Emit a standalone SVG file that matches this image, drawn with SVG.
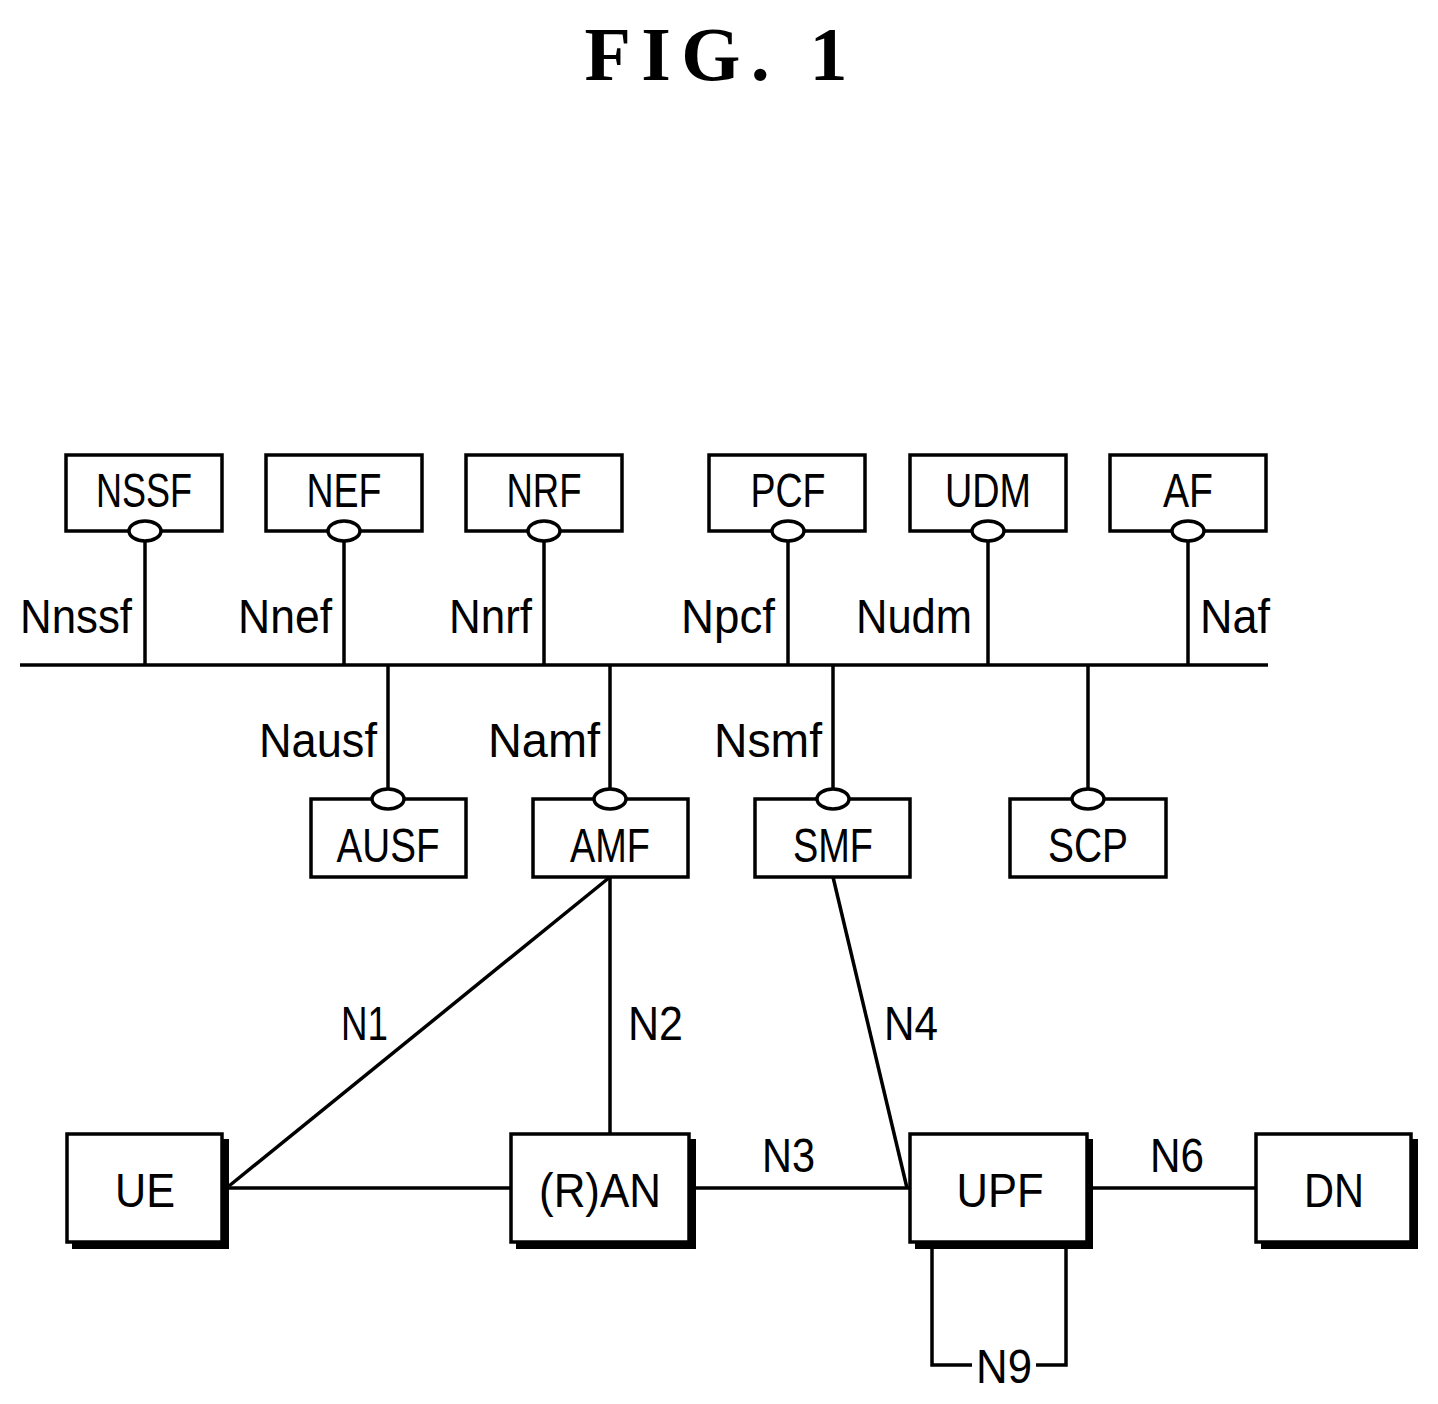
<svg xmlns="http://www.w3.org/2000/svg" width="1438" height="1404" viewBox="0 0 1438 1404">
<style>
.b{fill:#fff;stroke:#000;stroke-width:3.5}
.s{fill:#000}
.o{fill:#fff;stroke:#000;stroke-width:3.5}
.l{stroke:#000;stroke-width:3.5;fill:none}
text{font-family:"Liberation Sans",Arial,sans-serif;font-size:49px;fill:#000}
.c{text-anchor:middle}
</style>
<rect width="1438" height="1404" fill="#fff"/>
<text x="716" y="80" class="c" textLength="263" lengthAdjust="spacing" style="font-family:'Liberation Serif',serif;font-weight:bold;font-size:76px">FIG.  1</text>
<g id="connectors">
<line class="l" x1="20" y1="665" x2="1268" y2="665"/>
<line class="l" x1="145" y1="531" x2="145" y2="665"/>
<line class="l" x1="344" y1="531" x2="344" y2="665"/>
<line class="l" x1="544" y1="531" x2="544" y2="665"/>
<line class="l" x1="788" y1="531" x2="788" y2="665"/>
<line class="l" x1="988" y1="531" x2="988" y2="665"/>
<line class="l" x1="1188" y1="531" x2="1188" y2="665"/>
<line class="l" x1="388" y1="665" x2="388" y2="799"/>
<line class="l" x1="610" y1="665" x2="610" y2="799"/>
<line class="l" x1="833" y1="665" x2="833" y2="799"/>
<line class="l" x1="1088" y1="665" x2="1088" y2="799"/>
<line class="l" x1="610" y1="877" x2="229" y2="1186"/>
<line class="l" x1="610" y1="877" x2="610" y2="1134"/>
<line class="l" x1="833" y1="877" x2="907" y2="1188"/>
<line class="l" x1="225" y1="1188" x2="511" y2="1188"/>
<line class="l" x1="692" y1="1188" x2="910" y2="1188"/>
<line class="l" x1="1090" y1="1188" x2="1256" y2="1188"/>
<polyline class="l" points="932,1246 932,1365 972,1365"/>
<polyline class="l" points="1036,1365 1066,1365 1066,1246"/>
<text x="20" y="633" textLength="112" lengthAdjust="spacingAndGlyphs">Nnssf</text>
<text x="238" y="633" textLength="94" lengthAdjust="spacingAndGlyphs">Nnef</text>
<text x="449" y="633" textLength="83" lengthAdjust="spacingAndGlyphs">Nnrf</text>
<text x="681" y="633" textLength="94" lengthAdjust="spacingAndGlyphs">Npcf</text>
<text x="856" y="633" textLength="116" lengthAdjust="spacingAndGlyphs">Nudm</text>
<text x="1200" y="633" textLength="70" lengthAdjust="spacingAndGlyphs">Naf</text>
<text x="259" y="757" textLength="118" lengthAdjust="spacingAndGlyphs">Nausf</text>
<text x="488" y="757" textLength="112" lengthAdjust="spacingAndGlyphs">Namf</text>
<text x="714" y="757" textLength="108" lengthAdjust="spacingAndGlyphs">Nsmf</text>
<text x="341" y="1040" textLength="47" lengthAdjust="spacingAndGlyphs">N1</text>
<text x="628" y="1040" textLength="55" lengthAdjust="spacingAndGlyphs">N2</text>
<text x="884" y="1040" textLength="54" lengthAdjust="spacingAndGlyphs">N4</text>
<text x="762" y="1172" textLength="53" lengthAdjust="spacingAndGlyphs">N3</text>
<text x="1150" y="1172" textLength="54" lengthAdjust="spacingAndGlyphs">N6</text>
<text x="976" y="1383" textLength="56" lengthAdjust="spacingAndGlyphs">N9</text>
</g>
<g id="NSSF"><rect class="b" x="66" y="455" width="156" height="76"/><ellipse class="o" cx="145" cy="531" rx="16" ry="10"/><text x="144" y="507" class="c" textLength="96" lengthAdjust="spacingAndGlyphs">NSSF</text></g>
<g id="NEF"><rect class="b" x="266" y="455" width="156" height="76"/><ellipse class="o" cx="344" cy="531" rx="16" ry="10"/><text x="344" y="507" class="c" textLength="75" lengthAdjust="spacingAndGlyphs">NEF</text></g>
<g id="NRF"><rect class="b" x="466" y="455" width="156" height="76"/><ellipse class="o" cx="544" cy="531" rx="16" ry="10"/><text x="544" y="507" class="c" textLength="75" lengthAdjust="spacingAndGlyphs">NRF</text></g>
<g id="PCF"><rect class="b" x="709" y="455" width="156" height="76"/><ellipse class="o" cx="788" cy="531" rx="16" ry="10"/><text x="788" y="507" class="c" textLength="75" lengthAdjust="spacingAndGlyphs">PCF</text></g>
<g id="UDM"><rect class="b" x="910" y="455" width="156" height="76"/><ellipse class="o" cx="988" cy="531" rx="16" ry="10"/><text x="988" y="507" class="c" textLength="86" lengthAdjust="spacingAndGlyphs">UDM</text></g>
<g id="AF"><rect class="b" x="1110" y="455" width="156" height="76"/><ellipse class="o" cx="1188" cy="531" rx="16" ry="10"/><text x="1188" y="507" class="c" textLength="50" lengthAdjust="spacingAndGlyphs">AF</text></g>
<g id="AUSF"><rect class="b" x="311" y="799" width="155" height="78"/><ellipse class="o" cx="388" cy="799" rx="16" ry="10"/><text x="388" y="862" class="c" textLength="103" lengthAdjust="spacingAndGlyphs">AUSF</text></g>
<g id="AMF"><rect class="b" x="533" y="799" width="155" height="78"/><ellipse class="o" cx="610" cy="799" rx="16" ry="10"/><text x="610" y="862" class="c" textLength="80" lengthAdjust="spacingAndGlyphs">AMF</text></g>
<g id="SMF"><rect class="b" x="755" y="799" width="155" height="78"/><ellipse class="o" cx="833" cy="799" rx="16" ry="10"/><text x="833" y="862" class="c" textLength="80" lengthAdjust="spacingAndGlyphs">SMF</text></g>
<g id="SCP"><rect class="b" x="1010" y="799" width="156" height="78"/><ellipse class="o" cx="1088" cy="799" rx="16" ry="10"/><text x="1088" y="862" class="c" textLength="80" lengthAdjust="spacingAndGlyphs">SCP</text></g>
<g id="UE"><rect class="s" x="72" y="1139" width="157" height="110"/><rect class="b" x="67" y="1134" width="155" height="108"/><text x="145" y="1207" class="c" textLength="60" lengthAdjust="spacingAndGlyphs">UE</text></g>
<g id="RAN"><rect class="s" x="516" y="1139" width="180" height="110"/><rect class="b" x="511" y="1134" width="178" height="108"/><text x="600" y="1207" class="c" textLength="122" lengthAdjust="spacingAndGlyphs">(R)AN</text></g>
<g id="UPF"><rect class="s" x="915" y="1139" width="178" height="110"/><rect class="b" x="910" y="1134" width="177" height="108"/><text x="1000" y="1207" class="c" textLength="87" lengthAdjust="spacingAndGlyphs">UPF</text></g>
<g id="DN"><rect class="s" x="1261" y="1139" width="157" height="110"/><rect class="b" x="1256" y="1134" width="155" height="108"/><text x="1334" y="1207" class="c" textLength="60" lengthAdjust="spacingAndGlyphs">DN</text></g>
</svg>
